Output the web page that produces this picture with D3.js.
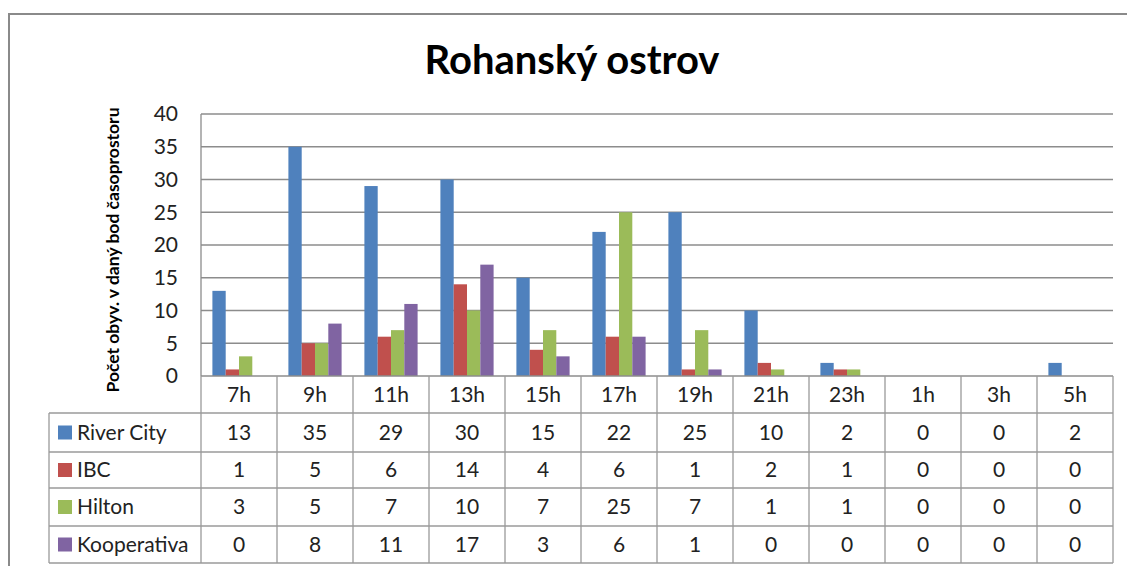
<!DOCTYPE html>
<html>
<head>
<meta charset="utf-8">
<script src="https://cdn.jsdelivr.net/npm/d3@7"></script>
<style>
  body { margin: 0; background: #fff; }
  svg { display: block; font-family: Lato, "Liberation Sans", sans-serif; }
</style>
</head>
<body>
<svg width="1127" height="566"></svg>
<script>
// categories (hours) and series
var hours = ["7h", "9h", "11h", "13h", "15h", "17h", "19h", "21h", "23h", "1h", "3h", "5h"];
var seriesNames = ["River City", "IBC", "Hilton", "Kooperativa"];
var riverCity = [13, 35, 29, 30, 15, 22, 25, 10, 2, 0, 0, 2];
var ibc = [1, 5, 6, 14, 4, 6, 1, 2, 1, 0, 0, 0];
var hilton = [3, 5, 7, 10, 7, 25, 7, 1, 1, 0, 0, 0];
var kooperativa = [0, 8, 11, 17, 3, 6, 1, 0, 0, 0, 0, 0];
var yTicks = [0, 5, 10, 15, 20, 25, 30, 35, 40];
var colors = ["#4F81BD", "#C0504D", "#9BBB59", "#8064A2"];

var values = [riverCity, ibc, hilton, kooperativa];

var svg = d3.select("svg");

// chart area border
svg.append("rect")
  .attr("x", 9).attr("y", 14)
  .attr("width", 1130).attr("height", 600)
  .attr("fill", "#fff")
  .attr("stroke", "#8a8a8a")
  .attr("stroke-width", 2);

// title
svg.append("text")
  .attr("x", 572).attr("y", 74)
  .attr("text-anchor", "middle")
  .attr("font-size", 40)
  .attr("font-weight", "bold")
  .text("Rohanský ostrov");

var plotLeft = 201, plotRight = 1113, plotTop = 114, plotBottom = 376;

var x0 = d3.scaleBand().domain(hours).range([plotLeft, plotRight]);
var colW = x0.bandwidth();
var x1 = d3.scaleBand().domain(seriesNames)
  .range([colW * 0.15, colW * 0.85]);
var y = d3.scaleLinear().domain([0, 40]).range([plotBottom, plotTop]);

// gridlines
svg.append("g").selectAll("line")
  .data(yTicks.slice(1))
  .enter().append("line")
  .attr("x1", plotLeft).attr("x2", plotRight)
  .attr("y1", function(d) { return y(d); })
  .attr("y2", function(d) { return y(d); })
  .attr("stroke", "#8c8c8c")
  .attr("stroke-width", 1.3);

// left axis line
svg.append("line")
  .attr("x1", plotLeft).attr("x2", plotLeft)
  .attr("y1", plotTop).attr("y2", plotBottom)
  .attr("stroke", "#8c8c8c").attr("stroke-width", 1.3);

// y tick labels
svg.append("g").selectAll("text")
  .data(yTicks)
  .enter().append("text")
  .attr("x", 178)
  .attr("y", function(d) { return y(d); })
  .attr("dy", "0.35em")
  .attr("text-anchor", "end")
  .attr("font-size", 21)
  .attr("fill", "#222")
  .text(function(d) { return d; });

// y axis title
svg.append("text")
  .attr("transform", "translate(119,250) rotate(-90)")
  .attr("text-anchor", "middle")
  .attr("font-size", 17.5)
  .attr("font-weight", "bold")
  .text("Počet obyv. v daný bod časoprostoru");

// bars
var groups = svg.append("g").selectAll("g")
  .data(hours)
  .enter().append("g")
  .attr("transform", function(d) { return "translate(" + x0(d) + ",0)"; });

groups.selectAll("rect")
  .data(function(d, i) {
    return seriesNames.map(function(s, j) { return { s: s, v: values[j][i], c: colors[j] }; });
  })
  .enter().append("rect")
  .attr("x", function(d) { return x1(d.s); })
  .attr("width", x1.bandwidth())
  .attr("y", function(d) { return y(d.v); })
  .attr("height", function(d) { return plotBottom - y(d.v); })
  .attr("fill", function(d) { return d.c; });

// data table
var tableLeft = 49;
var rowEdges = [376, 413, 452, 488, 526, 563];
var gridColor = "#9a9a9a";
var tbl = svg.append("g");

// horizontal lines
rowEdges.forEach(function(ry, i) {
  tbl.append("line")
    .attr("x1", i < 1 ? plotLeft : tableLeft).attr("x2", plotRight)
    .attr("y1", ry).attr("y2", ry)
    .attr("stroke", i === 0 ? "#8c8c8c" : gridColor).attr("stroke-width", 1.3);
});
// vertical lines
hours.concat(["end"]).forEach(function(h, i) {
  var vx = i < hours.length ? x0(h) : plotRight;
  tbl.append("line")
    .attr("x1", vx).attr("x2", vx)
    .attr("y1", rowEdges[0]).attr("y2", rowEdges[5])
    .attr("stroke", gridColor).attr("stroke-width", 1.3);
});
tbl.append("line")
  .attr("x1", tableLeft).attr("x2", tableLeft)
  .attr("y1", rowEdges[1]).attr("y2", rowEdges[5])
  .attr("stroke", gridColor).attr("stroke-width", 1.3);

// header labels
tbl.selectAll("text.hdr")
  .data(hours)
  .enter().append("text")
  .attr("class", "hdr")
  .attr("x", function(d) { return x0(d) + colW / 2; })
  .attr("y", (rowEdges[0] + rowEdges[1]) / 2)
  .attr("dy", "0.35em")
  .attr("text-anchor", "middle")
  .attr("font-size", 21)
  .attr("fill", "#222")
  .text(function(d) { return d; });

seriesNames.forEach(function(s, j) {
  var cy = (rowEdges[j + 1] + rowEdges[j + 2]) / 2;
  tbl.append("rect")
    .attr("x", 58).attr("y", cy - 7)
    .attr("width", 14).attr("height", 14)
    .attr("fill", colors[j]);
  tbl.append("text")
    .attr("x", 77).attr("y", cy)
    .attr("dy", "0.35em")
    .attr("font-size", 21)
    .attr("fill", "#222")
    .text(s);
  tbl.append("g").selectAll("text")
    .data(values[j])
    .enter().append("text")
    .attr("x", function(d, i) { return x0(hours[i]) + colW / 2; })
    .attr("y", cy)
    .attr("dy", "0.35em")
    .attr("text-anchor", "middle")
    .attr("font-size", 21)
    .attr("fill", "#222")
    .text(function(d) { return d; });
});
</script>
</body>
</html>
